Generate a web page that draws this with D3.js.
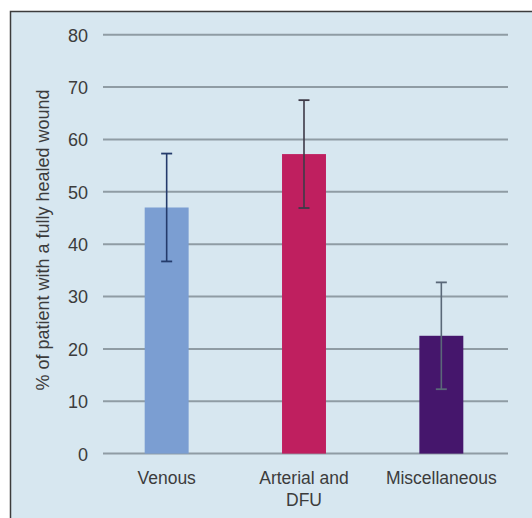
<!DOCTYPE html>
<html>
<head>
<meta charset="utf-8">
<script src="https://cdn.jsdelivr.net/npm/d3@7"></script>
<style>
  html, body { margin: 0; padding: 0; background: #ffffff; }
  svg { display: block; }
  text { font-family: "Liberation Sans", Arial, Helvetica, sans-serif; fill: #3c3c3c; }
</style>
</head>
<body>
<svg id="chart" width="532" height="518"></svg>
<script>
const categories = ["Venous", "Arterial and\nDFU", "Miscellaneous"];
const values = [47.0, 57.2, 22.5];
const errors = [10.3, 10.3, 10.2];
const yTicks = [0, 10, 20, 30, 40, 50, 60, 70, 80];
const barColors = ["#7b9ed2", "#bf1f5f", "#45166c"];
const errColors = ["#243b6b", "#3e3a48", "#5a6878"];
const yTitle = "% of patient with a fully healed wound";

const svg = d3.select("#chart");
const W = 532, H = 518;

// panel background and border
svg.append("rect").attr("x", 10).attr("y", 11).attr("width", W - 10).attr("height", H - 11)
  .attr("fill", "#d7e7f0");
svg.append("path").attr("d", `M10.5,${H} L10.5,11.5 L${W},11.5`)
  .attr("fill", "none").attr("stroke", "#3c3c3c").attr("stroke-width", 1.5);

const plot = { left: 103, right: 508, top: 34.7, bottom: 453.6 };

const x = d3.scaleBand().domain(categories).range([98, 510]).paddingInner(0.68).paddingOuter(0.34);
const y = d3.scaleLinear().domain([0, 80]).range([plot.bottom, plot.top]);

// gridlines
svg.append("g").selectAll("line").data(yTicks).join("line")
  .attr("x1", plot.left).attr("x2", plot.right)
  .attr("y1", d => y(d)).attr("y2", d => y(d))
  .attr("stroke", "#8f9ca4").attr("stroke-width", 2);

// y axis tick labels via d3 axis
const yAxis = d3.axisLeft(y).tickValues(yTicks).tickSize(0).tickPadding(0);
const gy = svg.append("g").attr("transform", "translate(88,0)").call(yAxis);
gy.select(".domain").remove();
gy.selectAll("text").attr("font-size", 18).attr("fill", "#3c3c3c").attr("dy", "0.36em")
  .style("font-family", '"Liberation Sans", Arial, sans-serif');

// bars
svg.append("g").selectAll("rect").data(categories).join("rect")
  .attr("x", d => x(d)).attr("width", x.bandwidth())
  .attr("y", (d, i) => y(values[i]))
  .attr("height", (d, i) => y(0) - y(values[i]))
  .attr("fill", (d, i) => barColors[i]);

// error bars
const eg = svg.append("g");
categories.forEach((c, i) => {
  const cx = x(c) + x.bandwidth() / 2;
  const hi = y(values[i] + errors[i]), lo = y(values[i] - errors[i]);
  eg.append("line").attr("x1", cx).attr("x2", cx).attr("y1", hi).attr("y2", lo)
    .attr("stroke", errColors[i]).attr("stroke-width", 1.6);
  [hi, lo].forEach(yy => {
    eg.append("line").attr("x1", cx - 5.5).attr("x2", cx + 5.5).attr("y1", yy).attr("y2", yy)
      .attr("stroke", errColors[i]).attr("stroke-width", 1.8);
  });
});

// x axis labels
const xAxis = d3.axisBottom(x).tickSize(0).tickPadding(0).tickFormat("");
const gx = svg.append("g").attr("transform", `translate(0,${plot.bottom})`).call(xAxis);
gx.select(".domain").remove();
gx.selectAll(".tick").each(function(d) {
  const t = d3.select(this).append("text")
    .attr("text-anchor", "middle").attr("font-size", 17.5).attr("fill", "#3c3c3c")
    .style("font-family", '"Liberation Sans", Arial, sans-serif');
  d.split("\n").forEach((line, k) => {
    t.append("tspan").attr("x", 0).attr("y", 30 + k * 22).text(line);
  });
});

// y title
svg.append("text")
  .attr("transform", "translate(49,240) rotate(-90)")
  .attr("text-anchor", "middle").attr("font-size", 18).attr("fill", "#3c3c3c")
  .text(yTitle);
</script>
</body>
</html>
